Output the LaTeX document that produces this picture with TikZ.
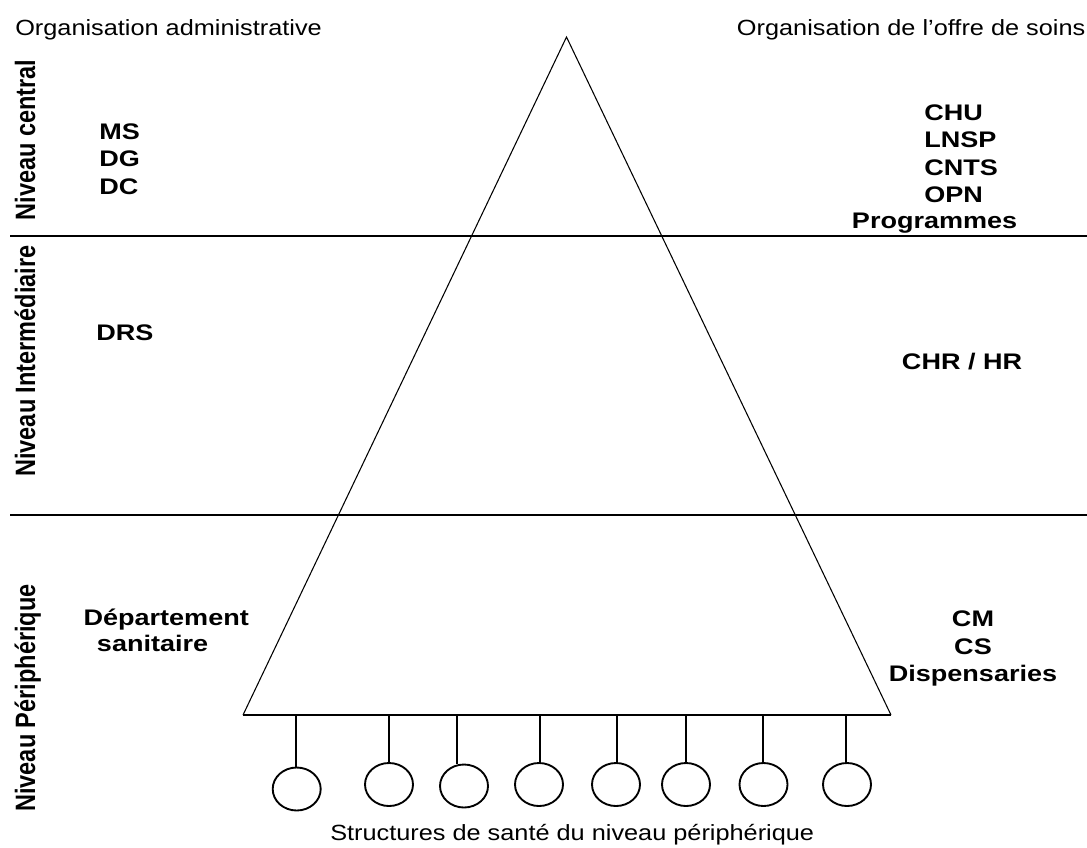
\documentclass[tikz,border=0pt]{standalone}
\usepackage{fontspec}
\usetikzlibrary{shapes.geometric}
\newfontfamily\regf[FakeStretch=1.15]{Liberation Sans}
\newfontfamily\boldf[FakeStretch=1.2]{Liberation Sans}
\newfontfamily\vertf[FakeStretch=0.84]{Liberation Sans}
\tikzset{
  toplbl/.style={inner sep=0, font=\regf\fontsize{16.5}{19}\selectfont},
  lbl/.style={inner sep=0, font=\boldf\bfseries\fontsize{16.9}{20.6}\selectfont},
  levellbl/.style={inner sep=0, rotate=90, anchor=base, font=\vertf\bfseries\fontsize{21}{25}\selectfont},
  sep/.style={line width=1.5pt},
  tri/.style={line width=0.8pt},
  stem/.style={line width=1.5pt},
  unit/.style={draw, ellipse, line width=1.4pt, minimum width=36pt, minimum height=32.25pt, inner sep=0},
}
\begin{document}
\begin{tikzpicture}[x=0.75pt,y=-0.75pt]
\useasboundingbox (0,0) rectangle (1087,847);
% separator lines
\coordinate (l1a) at (10,236); \coordinate (l1b) at (1087,236);
\coordinate (l2a) at (10,515); \coordinate (l2b) at (1087,515);
\draw[sep] (l1a) -- (l1b);
\draw[sep] (l2a) -- (l2b);
% triangle
\coordinate (apex) at (566.5,37);
\coordinate (bl) at (243,715);
\coordinate (br) at (891,715);
\draw[tri] (bl) -- (apex) -- (br);
\draw[line width=1.2pt] (bl) -- (br);
% stems and circles
\foreach \i/\sx/\cx/\cy in {1/296/296.7/789, 2/388.5/389/784.5, 3/457/464/786, 4/540/539/784.5, 5/617/616/784.5, 6/686/686/784.5, 7/762.5/763.5/784.5, 8/846/847/784.5}{
  \node[unit] (c\i) at (\cx,\cy) {};
  \coordinate (b\i) at (\sx,715);
  \draw[stem] (b\i) -- (b\i |- c\i.north);
}
% top labels
\node[toplbl, anchor=base west] (oa) at (15,35) {Organisation administrative};
\node[toplbl, anchor=base west] (os) at (736.7,35) {Organisation de l’offre de soins};
\node[toplbl, anchor=base west] (ss) at (330,840) {Structures de santé du niveau périphérique};
% level labels
\node[levellbl] (nc) at (35,140) {Niveau central};
\node[levellbl] (ni) at (35,361) {Niveau Intermédiaire};
\node[levellbl] (np) at (35,698) {Niveau Périphérique};
% administrative
\node[lbl, anchor=base west, align=left] (adm) at (99,194) {MS\\DG\\DC};
\node[lbl, anchor=base west] (drs) at (96,340) {DRS};
\node[lbl, anchor=base west] (dep) at (83.3,625) {Département};
\node[lbl, anchor=base west] (san) at (96.7,651.7) {sanitaire};
% offre de soins
\node[lbl, anchor=base west, align=left] (chu) at (924,202.7) {CHU\\LNSP\\CNTS\\OPN};
\node[lbl, anchor=base west] (prog) at (851.7,228) {Programmes};
\node[lbl, anchor=base west] (chr) at (901.7,369.3) {CHR / HR};
\node[lbl, anchor=base, align=center] (cm) at (973,681.7) {CM\\CS\\Dispensaries};
\end{tikzpicture}
\end{document}
